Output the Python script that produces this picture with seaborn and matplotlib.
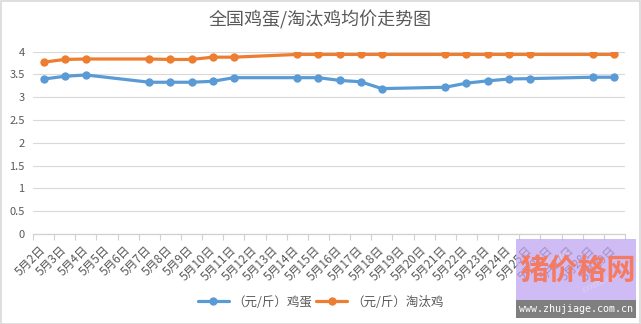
import matplotlib
matplotlib.use("Agg")
import matplotlib.pyplot as plt
from matplotlib.patches import Rectangle
from matplotlib.ticker import FixedLocator, MultipleLocator
import seaborn as sns
import pandas as pd

# Calendar days shown on the category axis (May)
axis_days = list(range(2, 30))
tick_labels = [f"5月{d}日" for d in axis_days]

# Quote days and average prices (元/斤)
quote_days = [2, 3, 4, 7, 8, 9, 10, 11, 14, 15, 16, 17, 18, 21, 22, 23, 24, 25, 28, 29]
egg_price = [3.40, 3.46, 3.49, 3.33, 3.33, 3.33, 3.35, 3.43, 3.43, 3.43,
             3.37, 3.34, 3.19, 3.22, 3.31, 3.36, 3.40, 3.41, 3.44, 3.44]
hen_price = [3.77, 3.83, 3.84, 3.84, 3.83, 3.83, 3.88, 3.88, 3.94, 3.94,
             3.94, 3.94, 3.94, 3.94, 3.94, 3.94, 3.94, 3.94, 3.94, 3.94]

series_names = ["（元/斤）鸡蛋", "（元/斤）淘汰鸡"]
series_colors = ["#5B9BD5", "#ED7D31"]

sns.set_theme(style="white")
plt.rcParams["font.family"] = ["Noto Sans CJK SC", "DejaVu Sans"]

W, H = 641, 324
fig = plt.figure(figsize=(W / 100, H / 100), dpi=100)

def fx(px):
    return px / W

def fy(py):
    return 1 - py / H

# plot area: x from 33 to 625 px, y=4 at 51.7 px, y=0 at 234 px
ax = fig.add_axes([fx(33), fy(234), fx(625) - fx(33), fy(51.7) - fy(234)])

pos = [axis_days.index(d) for d in quote_days]
df = pd.DataFrame({
    "pos": pos * 2,
    "price": egg_price + hen_price,
    "series": [series_names[0]] * len(pos) + [series_names[1]] * len(pos),
})
sns.lineplot(data=df, x="pos", y="price", hue="series", palette=series_colors,
             marker="o", markersize=6, markeredgewidth=0, linewidth=2.3,
             ax=ax, legend=False, zorder=3)

ax.set_xlim(-0.5, len(axis_days) - 0.5)
ax.set_ylim(0, 4)
ax.yaxis.set_major_locator(MultipleLocator(0.5))
ax.set_yticklabels([f"{v:g}" for v in ax.get_yticks()])
ax.grid(axis="y", color="#D9D9D9", linewidth=0.8)
ax.grid(axis="x", visible=False)
for s in ["left", "right", "top"]:
    ax.spines[s].set_visible(False)
ax.spines["bottom"].set_color("#D0D0D0")
ax.spines["bottom"].set_linewidth(0.9)

ax.xaxis.set_major_locator(FixedLocator(list(range(len(axis_days)))))
ax.set_xticklabels(tick_labels, rotation=45, ha="right", va="center",
                   rotation_mode="anchor", fontsize=8.5, color="#595959")
ax.tick_params(axis="x", which="major", length=0, pad=10)
ax.xaxis.set_minor_locator(FixedLocator([i - 0.5 for i in range(len(axis_days) + 1)]))
ax.tick_params(axis="x", which="minor", length=4, width=0.8, color="#D0D0D0",
               direction="out", bottom=True)
ax.tick_params(axis="y", length=0, labelsize=8, labelcolor="#595959", pad=6)
ax.set_xlabel("")
ax.set_ylabel("")

fig.text(0.5, fy(20), "全国鸡蛋/淘汰鸡均价走势图", ha="center", va="center",
         fontsize=13, color="#595959")

handles = [plt.Line2D([], [], color=c, linewidth=2.3, marker="o", markersize=6,
                      markeredgewidth=0) for c in series_colors]
fig.legend(handles, series_names, loc="center", bbox_to_anchor=(0.5, fy(302)),
           ncol=2, frameon=False, fontsize=9, handlelength=2.5,
           columnspacing=0.3, handletextpad=0.3, labelcolor="#595959")

# outer chart border
fig.patches.append(Rectangle((0.5 / W, 0.5 / H), 1 - 1.5 / W, 1 - 1.5 / H,
                             transform=fig.transFigure, fill=False,
                             edgecolor="#D9D9D9", linewidth=1.2, zorder=10))

# site stamp in the lower-right corner
fig.patches.append(Rectangle((fx(516), fy(300)), fx(636) - fx(516), fy(239) - fy(300),
                             transform=fig.transFigure, facecolor="#BFA3F0",
                             alpha=0.72, edgecolor="none", zorder=20))
fig.patches.append(Rectangle((fx(516), fy(318)), fx(636) - fx(516), fy(300) - fy(318),
                             transform=fig.transFigure, facecolor="#7F7F7F",
                             edgecolor="none", zorder=20))
fig.text(fx(548), fy(262), "zhujiage", ha="center", va="center",
         rotation=25, fontsize=7, color="#D9CCF7", alpha=0.8, zorder=21,
         family="DejaVu Serif", fontweight="bold")
fig.text(fx(600), fy(282), "com.cn", ha="center", va="center",
         rotation=25, fontsize=7, color="#D9CCF7", alpha=0.8, zorder=21,
         family="DejaVu Serif", fontweight="bold")
fig.text(fx(578), fy(270), "猪价格网", ha="center", va="center", fontsize=21,
         fontweight="bold", color="#F47B62", zorder=22)
fig.text(fx(576), fy(309.5), "www.zhujiage.com.cn", ha="center", va="center",
         fontsize=7.2, color="white", family="DejaVu Sans Mono", zorder=22)

fig.savefig("out.png", dpi=100)
